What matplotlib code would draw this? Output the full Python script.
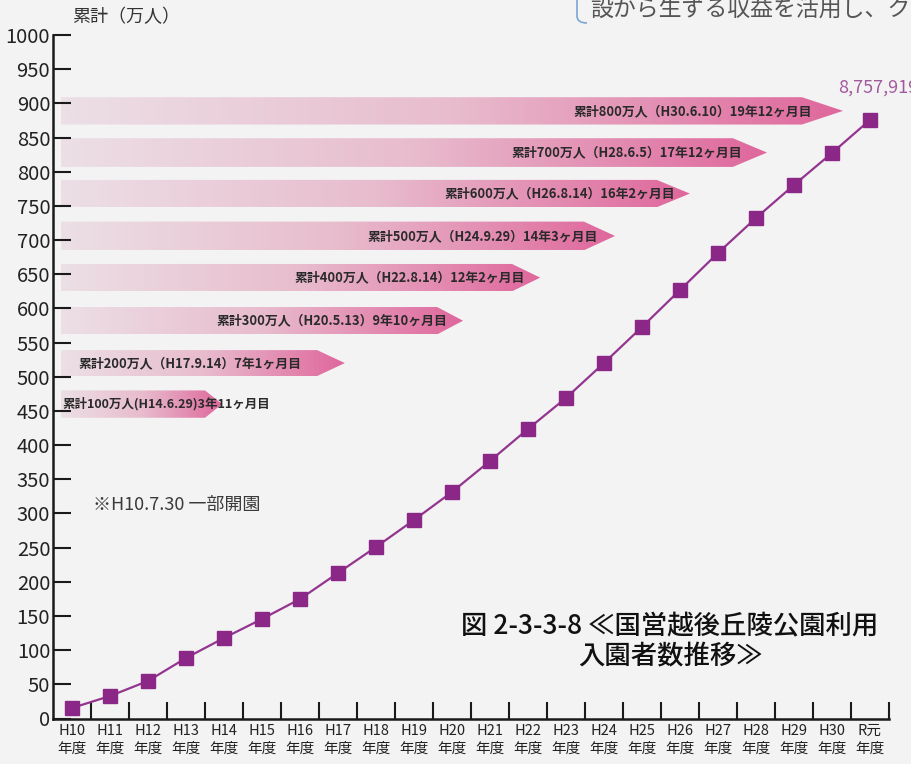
import matplotlib
matplotlib.use('Agg')
import matplotlib.pyplot as plt
import numpy as np
from matplotlib.patches import Polygon, PathPatch
from matplotlib.path import Path
from matplotlib.transforms import Affine2D
from matplotlib.colors import LinearSegmentedColormap

plt.rcParams['font.family'] = ['Noto Sans CJK JP', 'DejaVu Sans']

# 年度ごとの累計入園者数(万人)
years = ['H10', 'H11', 'H12', 'H13', 'H14', 'H15', 'H16', 'H17', 'H18', 'H19', 'H20',
         'H21', 'H22', 'H23', 'H24', 'H25', 'H26', 'H27', 'H28', 'H29', 'H30', 'R元']
visitors = [15.4, 32.9, 54.9, 88.5, 117.8, 145.6, 174.8, 212.9, 250.9, 290.4, 331.4,
            376.8, 423.6, 469.0, 520.1, 572.8, 626.9, 681.1, 732.3, 780.6, 827.4, 875.8]

# 達成記録の矢印
milestones = ['累計100万人(H14.6.29)3年11ヶ月目',
              '累計200万人（H17.9.14）7年1ヶ月目',
              '累計300万人（H20.5.13）9年10ヶ月目',
              '累計400万人（H22.8.14）12年2ヶ月目',
              '累計500万人（H24.9.29）14年3ヶ月目',
              '累計600万人（H26.8.14）16年2ヶ月目',
              '累計700万人（H28.6.5）17年12ヶ月目',
              '累計800万人（H30.6.10）19年12ヶ月目']
arrow_bottom = [440, 501, 562, 625, 685, 748, 807, 869]
arrow_top = [480, 539, 602, 665, 727, 788, 849, 909]
arrow_body_end = [3.5, 6.45, 9.61, 11.58, 13.47, 15.39, 17.39, 19.21]
arrow_tip = [3.95, 7.18, 10.29, 12.32, 14.29, 16.26, 18.29, 20.29]
label_end = [5.16, 6.05, 9.87, 11.92, 13.84, 15.87, 17.63, 19.47]
arrow_left = -0.29

W, H = 912, 764
fig = plt.figure(figsize=(W / 100, H / 100), dpi=100, facecolor='#f3f3f3')
ax = fig.add_axes([53 / W, 45.5 / H, 836 / W, 683.5 / H])
ax.set_facecolor('none')

# 矢印(グラデーション)
cmap = LinearSegmentedColormap.from_list('pk', ['#ecdfe5', '#e8bccd', '#df679c'])
grad = np.linspace(0, 1, 256).reshape(1, -1)
for i in range(len(milestones)):
    b, t = arrow_bottom[i], arrow_top[i]
    be, tip = arrow_body_end[i], arrow_tip[i]
    poly = Polygon([(arrow_left, b), (be, b), (tip, (b + t) / 2), (be, t), (arrow_left, t)],
                   closed=True, fc='none', ec='none', transform=ax.transData)
    ax.add_patch(poly)
    im = ax.imshow(grad, extent=[arrow_left, tip, b, t], aspect='auto', cmap=cmap,
                   origin='lower', zorder=1, interpolation='bilinear')
    im.set_clip_path(poly)
    if i == 0:
        ax.text(-0.26, (b + t) / 2, milestones[i], ha='left', va='center',
                fontsize=9.0, fontweight='bold', color='#2a2a2a', zorder=3)
    else:
        ax.text(label_end[i], (b + t) / 2, milestones[i], ha='right', va='center',
                fontsize=9.3, fontweight='bold', color='#2a2a2a', zorder=3)

x = np.arange(len(years))
ax.plot(x, visitors, color='#93358f', lw=1.6, marker='s', ms=9.5,
        mfc='#8b2887', mec='#8b2887', zorder=5, clip_on=False)

ax.set_xlim(-0.5, len(years) - 0.5)
ax.set_ylim(0, 1000)
for s in ['top', 'right']:
    ax.spines[s].set_visible(False)
for s in ['left', 'bottom']:
    ax.spines[s].set_linewidth(1.8)
    ax.spines[s].set_color('#1a1a1a')

ax.set_yticks(np.arange(0, 1001, 50))
ax.tick_params(axis='y', direction='in', length=13, width=1.5, pad=2,
               labelsize=14.5, colors='#1a1a1a', labelcolor='#222222')
ax.set_xticks(np.arange(0.5, len(years), 1))
ax.set_xticklabels([])
ax.set_xticks(x, minor=True)
ax.set_xticklabels([y + '\n年度' for y in years], minor=True, linespacing=1.35)
ax.tick_params(axis='x', which='major', direction='in', length=12, width=1.5, colors='#1a1a1a')
ax.tick_params(axis='x', which='minor', length=0, pad=4, labelsize=10.5, labelcolor='#222222')

ax.text(0, 1026, '累計（万人）', ha='left', va='center', fontsize=13, color='#333333')
ax.text(20.16, 922.5, '8,757,919', ha='left', va='center', fontsize=13, color='#a25a9f')
ax.text(0.55, 312.4, '※H10.7.30 一部開園', ha='left', va='center', fontsize=13, color='#3a3a3a')

fig.text(670 / W, (H - 642) / H, '図 2-3-3-8 ≪国営越後丘陵公園利用\n入園者数推移≫',
         ha='center', va='center', fontsize=19, fontweight='medium', color='#111111',
         linespacing=1.15)

# ページ本文の切れ端
fig.text(590 / W, (H - 9) / H, '設から生ずる収益を活用し、ク', ha='left', va='center',
         fontsize=16.5, color='#555555')
px = Affine2D().scale(1 / W, 1 / H) + fig.transFigure
bracket = Path([(577, H), (577, H - 16), (577, H - 23), (587, H - 23)],
               [Path.MOVETO, Path.LINETO, Path.CURVE3, Path.CURVE3])
fig.add_artist(PathPatch(bracket, fc='none', ec='#7aa6d6', lw=1.2, transform=px))

fig.savefig('out.png', dpi=100, facecolor=fig.get_facecolor())
